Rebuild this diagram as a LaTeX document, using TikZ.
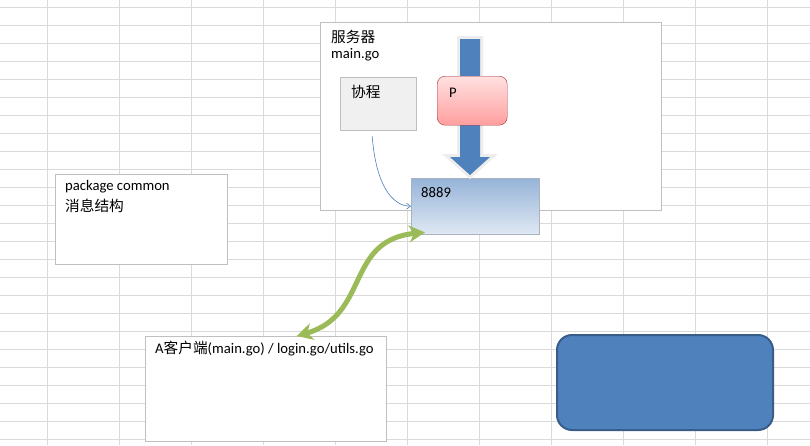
\documentclass[tikz,border=0pt]{standalone}
\usepackage{fontspec}
\setmainfont{Carlito}
\newfontfamily\cjk{Noto Sans CJK SC}
\usetikzlibrary{arrows.meta,positioning}
\definecolor{gridgray}{HTML}{DADADA}
\definecolor{boxgray}{HTML}{BFBFBF}
\definecolor{arrowblue}{HTML}{4F81BD}
\definecolor{darkblue}{HTML}{385D8A}
\definecolor{olive}{HTML}{9BBB59}
\tikzset{
	sheetbox/.style={draw=boxgray, fill=white, anchor=north west, inner sep=0pt},
	txt/.style={anchor=base west, inner sep=0pt, font=\fontsize{14.67}{17}\selectfont},
}
\begin{document}
\begin{tikzpicture}[x=1pt,y=-1pt]
	\useasboundingbox (0,0) rectangle (810,445);
	% sheet grid
	\foreach \x in {47,119,...,767} \draw[gridgray] (\x,0) -- (\x,445);
	\foreach \y in {7,25,...,439} \draw[gridgray] (0,\y) -- (810,\y);
	% boxes
	\node[sheetbox, minimum width=341pt, minimum height=188pt] (server) at (320,22) {};
	\node[sheetbox, minimum width=172pt, minimum height=90pt] (common) at (55,174) {};
	\node[sheetbox, minimum width=241pt, minimum height=105pt] (client) at (145,336) {};
	\node[sheetbox, fill=black!6, minimum width=76pt, minimum height=53pt] (xc) at (340,77) {};
	\node[draw=boxgray!80!arrowblue, anchor=north west, inner sep=0pt, top color=arrowblue!60, bottom color=arrowblue!18, minimum width=128pt, minimum height=56pt] (port) at (411,178) {};
	% big arrow through P
	\fill[arrowblue, preaction={draw=black!7, line width=6pt, line join=miter}]
		(460,39) -- (480,39) -- (480,157) -- (490,157) -- (470,175) -- (450,157) -- (460,157) -- cycle;
	\node[draw=red!55!black!80, anchor=north west, rounded corners=8pt, top color=red!12, bottom color=red!38, minimum width=70pt, minimum height=49pt] (p) at (437,76) {};
	\node[draw=darkblue, line width=2pt, fill=arrowblue, rounded corners=15pt, anchor=north west, minimum width=216pt, minimum height=95pt] (blank) at (556,334) {};
	% texts
	\node[txt] (srvname) at ([shift={(11,20)}]server.north west) {\cjk 服务器};
	\node[txt] (srvfile) at ([shift={(11,36)}]server.north west) {main.go};
	\node[txt] (xcname) at ([shift={(11,20)}]xc.north west) {\cjk 协程};
	\node[txt] (pname) at ([shift={(12,21)}]p.north west) {P};
	\node[txt] (portno) at ([shift={(10,19)}]port.north west) {8889};
	\node[txt] (pkg) at ([shift={(10,16)}]common.north west) {package common};
	\node[txt] (msg) at ([shift={(10,37)}]common.north west) {\cjk 消息结构};
	\node[txt] (cli) at ([shift={(10,17)}]client.north west) {A{\cjk 客户端}(main.go) / login.go/utils.go};
	% connectors
	\draw[arrowblue, line width=0.6pt, -{Straight Barb[length=4pt,width=6pt]}]
		([shift={(-6,6)}]xc.south) .. controls (376,185) and (392,206) .. (port.west);
	\draw[olive, line width=5pt, {Stealth[length=16pt,width=17pt,inset=5pt]}-{Stealth[length=16pt,width=17pt,inset=5pt]}]
		([xshift=31pt]client.north) .. controls (370,315) and (345,240) .. ([shift={(14,-2)}]port.south west);
\end{tikzpicture}
\end{document}
